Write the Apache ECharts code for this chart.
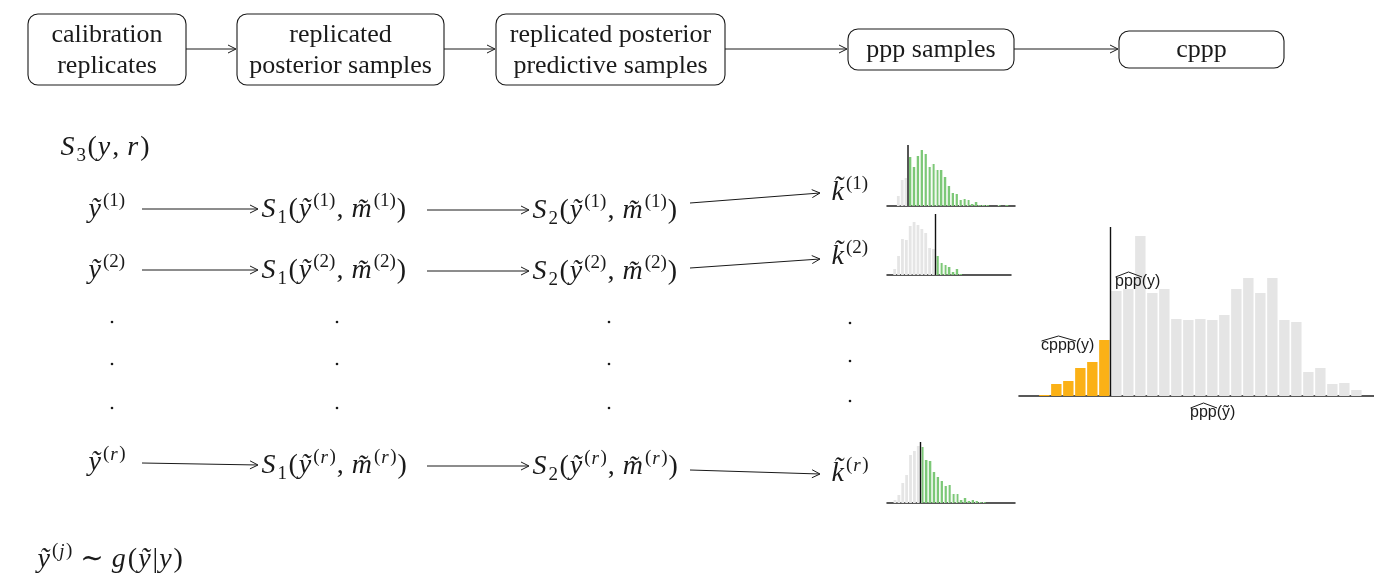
<!DOCTYPE html>
<html><head><meta charset="utf-8">
<script src="https://cdn.jsdelivr.net/npm/echarts@6/dist/echarts.min.js"></script>
<style>html,body{margin:0;padding:0;background:#fff}#c{width:1374px;height:576px}</style>
</head><body><div id="c"></div>
<script>
// ---- content ----
const stageLabels = ['calibration\nreplicates', 'replicated\nposterior samples', 'replicated posterior\npredictive samples', 'ppp samples', 'cppp'];
const replicateIds = ['1', '2', 'r'];
// ---- histogram bin heights (left of / right of the observed value) ----
const hist1Below = [10, 26, 28];
const hist1Above = [49, 39, 50, 56, 52, 39, 42, 36, 36, 29, 20, 13, 12, 6, 7, 6, 2, 4, 1, 1, 1, 0, 0, 1, 0, 1];
const hist2Below = [6, 19, 36, 35, 49, 53, 50, 46, 42, 27, 26];
const hist2Above = [19, 12, 10, 8, 3, 6, 1];
const histRBelow = [3, 8, 20, 28, 48, 52, 57];
const histRAbove = [56, 43, 42, 31, 26, 22, 17, 18, 9, 9, 3, 5, 2, 3, 2, 1, 1];
const cpppBelow = [1, 12, 15, 28, 34, 56];
const pppAbove = [105, 107, 160, 103, 107, 77, 76, 77, 76, 81, 107, 118, 103, 118, 76, 74, 24, 28, 12, 13, 6];

const SERIF = '"Liberation Serif", "DejaVu Serif", serif';
const SANS = '"Liberation Sans", Arial, sans-serif';
const INK = '#1a1a1a';
const F = 28, f = 19, LH = 36;

const rich = {
  i: { fontFamily: SERIF, fontStyle: 'italic', fontSize: F, lineHeight: LH, fill: INK, verticalAlign: 'middle', padding: [0, 1.5, 0, 0.5] },
  n: { fontFamily: SERIF, fontSize: F, lineHeight: LH, fill: INK, verticalAlign: 'middle', padding: [0, 0.5, 0, 0.5] },
  p: { fontFamily: SERIF, fontSize: f, lineHeight: f, fill: INK, verticalAlign: 'top', padding: [0, 0.5, 0, 0.5] },
  pi: { fontFamily: SERIF, fontStyle: 'italic', fontSize: f, lineHeight: f, fill: INK, verticalAlign: 'top', padding: [0, 1, 0, 0.5] },
  b: { fontFamily: SERIF, fontSize: f, lineHeight: f, fill: INK, verticalAlign: 'bottom', padding: [0, 1, 0, 0.5] }
};
function sup(id) { return id === 'r' ? '{p|(}{pi|r}{p|)}' : '{p|(' + id + ')}'; }
const MT = 'm\u0303', KT = 'k\u0303';
function yExpr(id) { return '{i|ỹ}' + sup(id); }
function sExpr(k, id) { return '{i|S}{b|' + k + '}{n|(}{i|ỹ}' + sup(id) + '{n|, }{i|' + MT + '}' + sup(id) + '{n|)}'; }
function kExpr(id) { return '{i|' + KT + '}' + sup(id); }

function mtext(x, y, text) {
  return { type: 'text', x: x, y: y, silent: true, z: 50,
    style: { text: text, rich: rich, align: 'left', verticalAlign: 'middle', fill: INK, font: F + 'px ' + SERIF } };
}
function arrow(x1, y1, x2, y2) {
  const a = Math.atan2(y2 - y1, x2 - x1), L = 8, W = 4;
  const c = Math.cos(a), s = Math.sin(a);
  return [
    { type: 'line', silent: true, shape: { x1: x1, y1: y1, x2: x2 - 0.5 * c, y2: y2 - 0.5 * s }, style: { stroke: INK, lineWidth: 1 } },
    { type: 'polyline', silent: true, shape: { points: [[x2 - L * c + W * s, y2 - L * s - W * c], [x2, y2], [x2 - L * c - W * s, y2 - L * s + W * c]] }, style: { stroke: INK, lineWidth: 1, fill: null } }
  ];
}
function box(x, y, w, h, label) {
  return [
    { type: 'rect', silent: true, shape: { x: x, y: y, width: w, height: h, r: 10 }, style: { fill: '#fff', stroke: INK, lineWidth: 1.1 } },
    { type: 'text', silent: true, x: x + w / 2, y: y + h / 2 + 1, style: { text: label, align: 'center', verticalAlign: 'middle', font: '26px ' + SERIF, lineHeight: 31, fill: INK } }
  ];
}
function hatLabel(x, y, text, hatW) {
  return [
    { type: 'text', silent: true, z: 100, x: x, y: y, style: { text: text, align: 'left', verticalAlign: 'middle', font: '16px ' + SANS, fill: INK } },
    { type: 'polyline', silent: true, z: 100, shape: { points: [[x + 0.5, y - 5], [x + hatW / 2, y - 10], [x + hatW, y - 5]] }, style: { stroke: INK, lineWidth: 1, fill: null } }
  ];
}

let g = [];
// top flow
g = g.concat(box(28, 14, 158, 71, stageLabels[0]));
g = g.concat(box(237, 14, 207, 71, stageLabels[1]));
g = g.concat(box(496, 14, 229, 71, stageLabels[2]));
g = g.concat(box(848, 29, 166, 41, stageLabels[3]));
g = g.concat(box(1119, 31, 165, 37, stageLabels[4]));
g = g.concat(arrow(186, 49, 236, 49), arrow(444, 49, 495, 49), arrow(725, 49, 847, 49), arrow(1014, 49, 1118, 49));

g.push(mtext(60, 148, '{i|S}{b|3}{n|(}{i|y}{n|, }{i|r}{n|)}'));
// rows
const rowY = [
  { y: 210, s1: 210, s2: 211, a1: [209, 209], a2: [210, 210], a3: [203, 193], k: 193 },
  { y: 271, s1: 271, s2: 272, a1: [270, 270], a2: [271, 271], a3: [268, 259], k: 257 },
  { y: 463, s1: 466, s2: 467, a1: [463, 465], a2: [466, 466], a3: [470, 474], k: 474 }
];
replicateIds.forEach(function (id, j) {
  const r = rowY[j];
  g.push(mtext(88, r.y, yExpr(id)));
  g = g.concat(arrow(142, r.a1[0], 258, r.a1[1]));
  g.push(mtext(261, r.s1, sExpr(1, id)));
  g = g.concat(arrow(427, r.a2[0], 529, r.a2[1]));
  g.push(mtext(532, r.s2, sExpr(2, id)));
  g = g.concat(arrow(690, r.a3[0], 820, r.a3[1]));
  g.push(mtext(831, r.k, kExpr(id)));
});
// vertical dots
[[112, [322, 364, 408]], [337, [322, 364, 408]], [609, [322, 364, 408]], [850, [323, 361, 401]]].forEach(function (d) {
  d[1].forEach(function (yy) { g.push({ type: 'circle', silent: true, shape: { cx: d[0], cy: yy, r: 1.3 }, style: { fill: INK } }); });
});
g.push(mtext(37, 560, '{i|ỹ}{p|(}{pi|j}{p|)}{n| ∼ }{i|g}{n|(}{i|ỹ}{n||}{i|y}{n|)}'));
// hat labels in big histogram
g = g.concat(hatLabel(1115, 282, 'ppp(y)', 27));
g = g.concat(hatLabel(1041, 346, 'cppp(y)', 35));
g = g.concat(hatLabel(1190, 413, 'ppp(ỹ)', 27));

const GREY = '#e5e5e5';
const GREEN = { type: 'linear', x: 0, y: 0, x2: 1, y2: 0, colorStops: [
  { offset: 0, color: '#cfe8cb' }, { offset: 0.3, color: '#cfe8cb' }, { offset: 0.3, color: '#7cc877' }, { offset: 1, color: '#7cc877' }] };
const ORANGE = '#fbb116';

function histSeries(idx, below, above, belowColor, aboveColor, barW, lineStyle) {
  const data = below.map(function (v, i) { return { value: [i, v], itemStyle: { color: belowColor } }; })
    .concat(above.map(function (v, i) { return { value: [below.length + i, v], itemStyle: { color: aboveColor } }; }));
  return { type: 'bar', xAxisIndex: idx, yAxisIndex: idx, barWidth: barW, data: data, silent: true,
    markLine: { symbol: 'none', silent: true, label: { show: false }, lineStyle: lineStyle, data: [{ xAxis: below.length - 0.5 }] } };
}
function xA(idx, min, max, w) {
  return { type: 'value', gridIndex: idx, min: min, max: max, axisLine: { show: true, onZero: false, lineStyle: { color: '#222', width: w } },
    axisTick: { show: false }, axisLabel: { show: false }, splitLine: { show: false } };
}
function yA(idx, max) { return { type: 'value', gridIndex: idx, min: 0, max: max, show: false, splitLine: { show: false } }; }

const option = {
  animation: false,
  backgroundColor: '#fff',
  grid: [
    { left: 887, top: 145, width: 128, height: 61 },
    { left: 887, top: 214, width: 124, height: 61 },
    { left: 887, top: 442, width: 128, height: 61 },
    { left: 1019, top: 227, width: 355, height: 169 }
  ],
  xAxis: [xA(0, -2.91, 30.08, 1.5), xA(1, -1.98, 29.98, 1.5), xA(2, -2.06, 30.93, 1.5), xA(3, -2.11, 27.47, 1.6)],
  yAxis: [yA(0, 61), yA(1, 61), yA(2, 61), yA(3, 169)],
  series: [
    histSeries(0, hist1Below, hist1Above, GREY, GREEN, 2.8, { color: '#555', width: 2, type: 'solid' }),
    histSeries(1, hist2Below, hist2Above, GREY, GREEN, 2.8, { color: '#111', width: 1.4, type: 'solid' }),
    histSeries(2, histRBelow, histRAbove, GREY, GREEN, 2.8, { color: '#111', width: 1.4, type: 'solid' }),
    histSeries(3, cpppBelow, pppAbove, ORANGE, GREY, 10.4, { color: '#111', width: 1.4, type: 'solid' })
  ],
  graphic: g
};
echarts.init(document.getElementById('c'), null, { renderer: 'canvas' }).setOption(option);
</script></body></html>
